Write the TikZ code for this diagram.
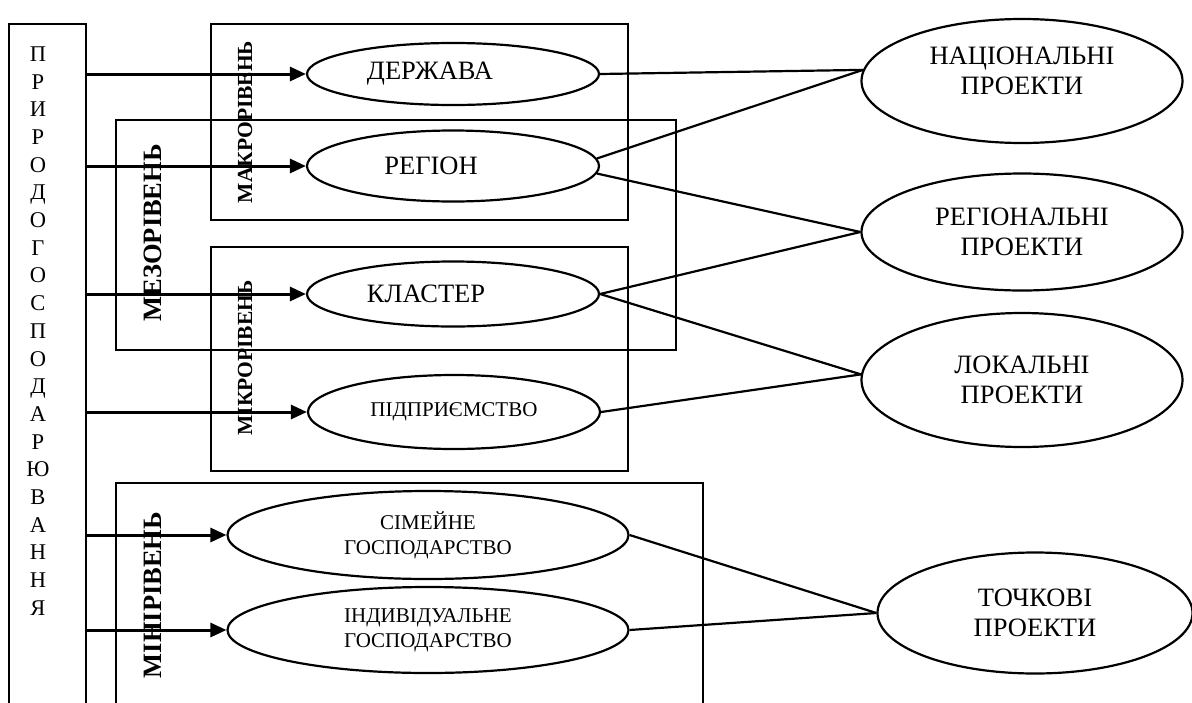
\documentclass[tikz,border=0pt]{standalone}
\usepackage{fontspec}
\setmainfont{Liberation Serif}
\usetikzlibrary{arrows.meta,shapes.geometric}

\tikzset{
  frame/.style={line width=2.2pt},
  oval/.style={draw, ellipse, line width=2.2pt, inner sep=0pt},
  arr/.style={line width=3pt, -{Triangle[length=16pt,width=14pt]}},
  link/.style={line width=2.2pt},
  bigtext/.style={font=\fontsize{26.5}{30}\selectfont},
  smalltext/.style={font=\fontsize{21}{25}\selectfont},
  level/.style={rotate=90, font=\bfseries\fontsize{26.5}{30}\selectfont},
  sublevel/.style={rotate=90, font=\bfseries\fontsize{21.5}{25}\selectfont},
}

\begin{document}
\begin{tikzpicture}[x=1pt,y=-1pt]
            \useasboundingbox (0,0) rectangle (1192,702);

            % Draw the left column, open at the bottom
            \draw[frame] (9,706) -- (9,24) -- (86,24) -- (86,706);
            \coordinate (src) at (86,0);

            % Vertical letters in the left column
            \node[font=\fontsize{22.5}{27.7}\selectfont, align=center] (pr) at (38,331)
              {П\\Р\\И\\Р\\О\\Д\\О\\Г\\О\\С\\П\\О\\Д\\А\\Р\\Ю\\В\\А\\Н\\Н\\Я};

            % Draw the level boxes
            \draw[frame] (211,24) rectangle (628,220);
            \draw[frame] (116,120) rectangle (676,350);
            \draw[frame] (211,247) rectangle (628,471);
            \draw[frame] (116,706) -- (116,483) -- (703,483) -- (703,706);

            % Level labels
            \node[sublevel] (makro) at (245,122) {МАКРОРІВЕНЬ};
            \node[level] (mezo) at (153,233) {МЕЗОРІВЕНЬ};
            \node[sublevel] (mikro) at (245,358) {МІКРОРІВЕНЬ};
            \node[level] (mini) at (153,595) {МІНІРІВЕНЬ};

            % Subjects
            \node[oval, bigtext, minimum width=292pt, minimum height=62pt] (der) at (453,74) {ДЕРЖАВА\hspace*{46pt}};
            \node[oval, bigtext, minimum width=292pt, minimum height=71pt] (reg) at (453,166) {РЕГІОН\hspace*{44pt}};
            \node[oval, bigtext, minimum width=292pt, minimum height=65pt] (kla) at (453,294) {КЛАСТЕР\hspace*{54pt}};
            \node[oval, smalltext, minimum width=292pt, minimum height=74pt] (pid) at (454,412) {ПІДПРИЄМСТВО};
            \node[oval, smalltext, align=center, minimum width=401pt, minimum height=88pt] (sim) at (428,535) {СІМЕЙНЕ\\ГОСПОДАРСТВО};
            \node[oval, smalltext, align=center, minimum width=401pt, minimum height=86pt] (ind) at (428,630) {ІНДИВІДУАЛЬНЕ\\ГОСПОДАРСТВО};

            % Projects
            \node[oval, bigtext, align=center, minimum width=321pt, minimum height=124pt] (nats) at (1022,81) {НАЦІОНАЛЬНІ\\ПРОЕКТИ\\[-10pt]\mbox{}};
            \node[oval, bigtext, align=center, minimum width=321pt, minimum height=117pt] (regp) at (1022,232) {РЕГІОНАЛЬНІ\\ПРОЕКТИ};
            \node[oval, bigtext, align=center, minimum width=321pt, minimum height=134pt] (loc) at (1022,380) {ЛОКАЛЬНІ\\ПРОЕКТИ};
            \node[oval, bigtext, align=center, minimum width=315pt, minimum height=121pt] (toch) at (1035,613) {ТОЧКОВІ\\ПРОЕКТИ};

            % Arrows from the left column
            \draw[arr] (src |- der.west) -- (der.west);
            \draw[arr] (src |- reg.west) -- (reg.west);
            \draw[arr] (src |- kla.west) -- (kla.west);
            \draw[arr] (src |- pid.west) -- (pid.west);
            \draw[arr] (src |- sim.west) -- (sim.west);
            \draw[arr] (src |- ind.west) -- (ind.west);

            % Links to the projects
            \draw[link] (der.east) -- (nats.176);
            \draw[link] (reg.3) -- (nats.176);
            \draw[link] (reg.-3) -- (regp.west);
            \draw[link] (kla.east) -- (regp.west);
            \draw[link] (kla.east) -- (loc.178);
            \draw[link] (pid.east) -- (loc.178);
            \draw[link] (sim.east) -- (toch.west);
            \draw[link] (ind.east) -- (toch.west);
\end{tikzpicture}
\end{document}
